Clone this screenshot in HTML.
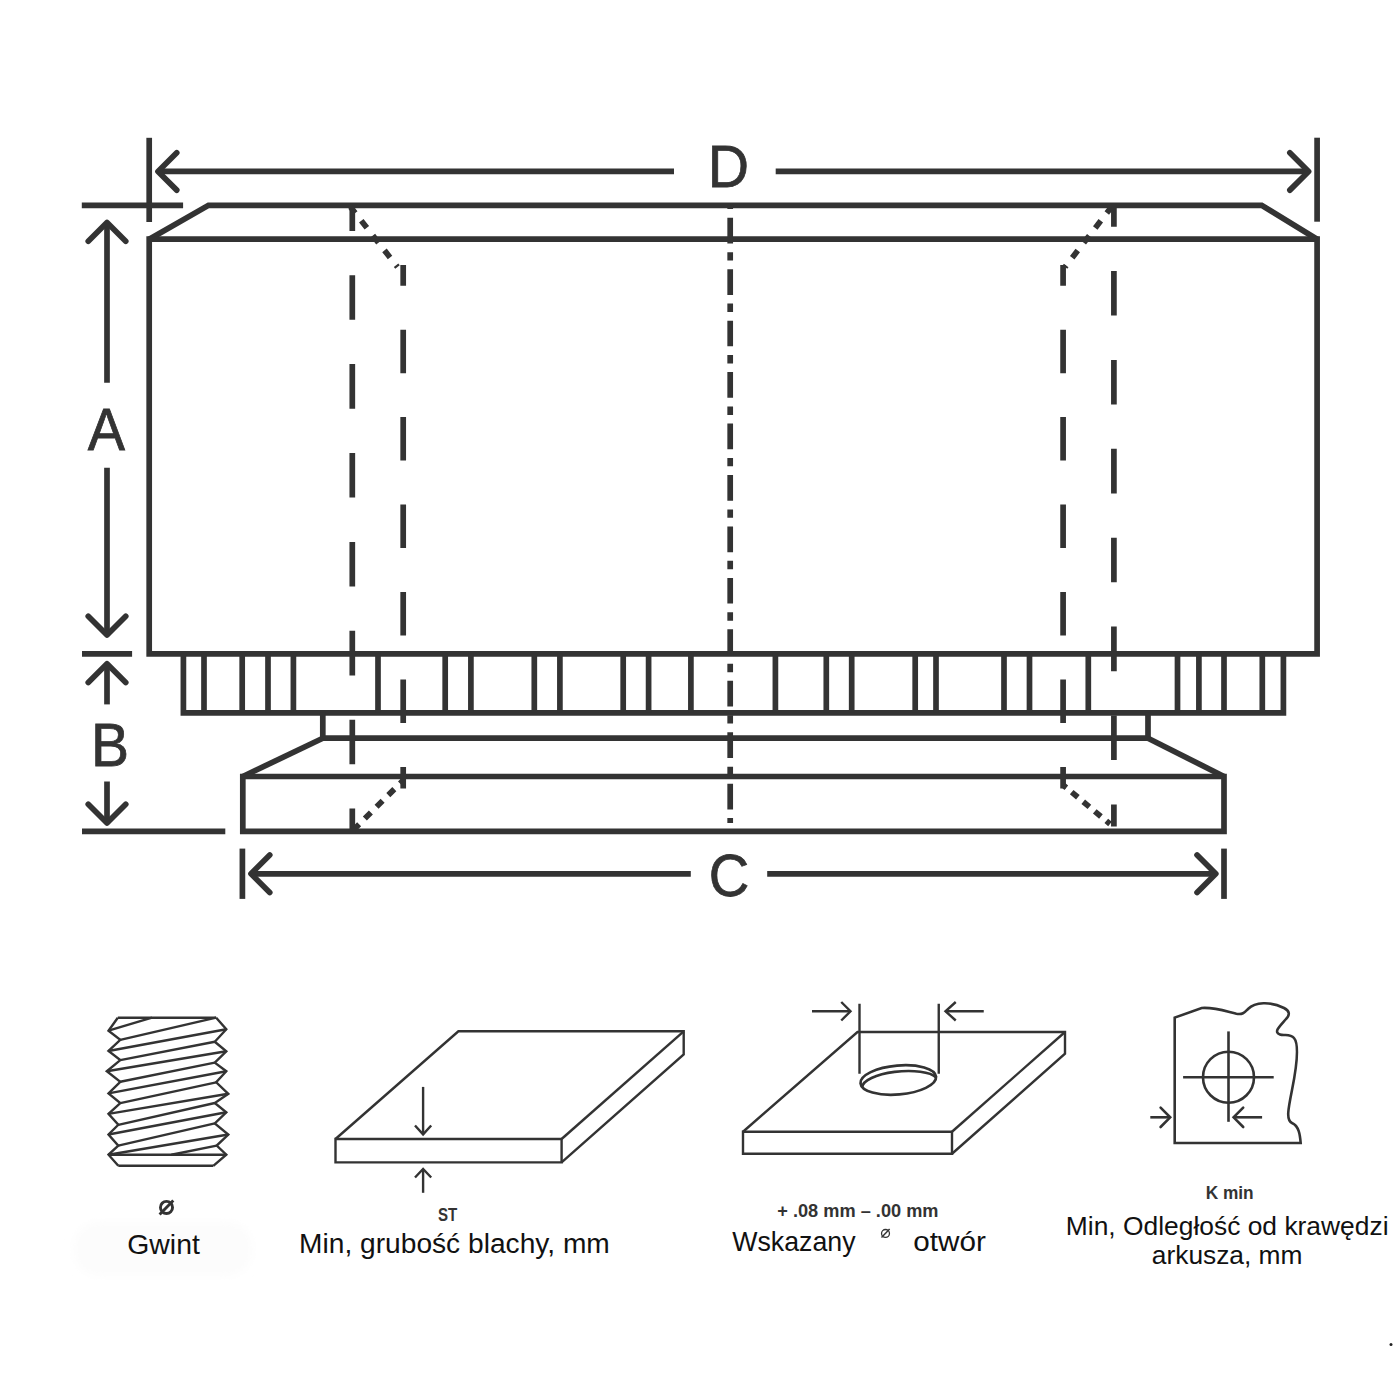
<!DOCTYPE html>
<html><head><meta charset="utf-8">
<style>
html,body{margin:0;padding:0;background:#fff;}
body{width:1400px;height:1400px;overflow:hidden;position:relative;}
svg{position:absolute;left:0;top:0;}
.t{font-family:"Liberation Sans",sans-serif;}
</style></head><body>
<svg width="1400" height="1400" viewBox="0 0 1400 1400">
<defs><filter id="bl" x="-20%" y="-50%" width="140%" height="200%"><feGaussianBlur stdDeviation="5"/></filter></defs><rect x="74" y="1222" width="178" height="54" rx="24" fill="#fcfcfc" filter="url(#bl)"/>
<g stroke="#333333" fill="none">
<line x1="149.2" y1="137.8" x2="149.2" y2="222" stroke-width="5.7" stroke-linecap="butt" />
<line x1="1317.1" y1="137.7" x2="1317.1" y2="221.7" stroke-width="5.7" stroke-linecap="butt" />
<line x1="158" y1="171.4" x2="674" y2="171.4" stroke-width="5.7" stroke-linecap="butt" />
<line x1="775.7" y1="171.4" x2="1308.6" y2="171.4" stroke-width="5.7" stroke-linecap="butt" />
<polyline points="176.74,190.14 158,171.4 176.74,152.66" stroke-width="5.7" stroke-linecap="round" stroke-linejoin="round" fill="none"/>
<polyline points="1289.86,152.66 1308.6,171.4 1289.86,190.14" stroke-width="5.7" stroke-linecap="round" stroke-linejoin="round" fill="none"/>
<line x1="81.8" y1="205.3" x2="183.1" y2="205.3" stroke-width="5.7" stroke-linecap="butt" />
<polyline points="149.2,239.2 208.5,205.3 1261.7,205.3 1317.1,239.2" stroke-width="5.7" stroke-linejoin="miter" fill="none" />
<polygon points="149.2,239.2 1317.1,239.2 1317.1,653.8 149.2,653.8" stroke-width="5.7" stroke-linejoin="miter" fill="none" />
<polyline points="183.4,653.8 183.4,712.8 1283.4,712.8 1283.4,653.8" stroke-width="5.7" stroke-linejoin="miter" fill="none" />
<line x1="204" y1="653.8" x2="204" y2="712.8" stroke-width="5.7" stroke-linecap="butt" />
<line x1="242.2" y1="653.8" x2="242.2" y2="712.8" stroke-width="5.7" stroke-linecap="butt" />
<line x1="268" y1="653.8" x2="268" y2="712.8" stroke-width="5.7" stroke-linecap="butt" />
<line x1="293.4" y1="653.8" x2="293.4" y2="712.8" stroke-width="5.7" stroke-linecap="butt" />
<line x1="378" y1="653.8" x2="378" y2="712.8" stroke-width="5.7" stroke-linecap="butt" />
<line x1="445.2" y1="653.8" x2="445.2" y2="712.8" stroke-width="5.7" stroke-linecap="butt" />
<line x1="470.9" y1="653.8" x2="470.9" y2="712.8" stroke-width="5.7" stroke-linecap="butt" />
<line x1="534.3" y1="653.8" x2="534.3" y2="712.8" stroke-width="5.7" stroke-linecap="butt" />
<line x1="559.9" y1="653.8" x2="559.9" y2="712.8" stroke-width="5.7" stroke-linecap="butt" />
<line x1="623.2" y1="653.8" x2="623.2" y2="712.8" stroke-width="5.7" stroke-linecap="butt" />
<line x1="648.6" y1="653.8" x2="648.6" y2="712.8" stroke-width="5.7" stroke-linecap="butt" />
<line x1="690.9" y1="653.8" x2="690.9" y2="712.8" stroke-width="5.7" stroke-linecap="butt" />
<line x1="775.4" y1="653.8" x2="775.4" y2="712.8" stroke-width="5.7" stroke-linecap="butt" />
<line x1="826.3" y1="653.8" x2="826.3" y2="712.8" stroke-width="5.7" stroke-linecap="butt" />
<line x1="851.7" y1="653.8" x2="851.7" y2="712.8" stroke-width="5.7" stroke-linecap="butt" />
<line x1="915.2" y1="653.8" x2="915.2" y2="712.8" stroke-width="5.7" stroke-linecap="butt" />
<line x1="936" y1="653.8" x2="936" y2="712.8" stroke-width="5.7" stroke-linecap="butt" />
<line x1="1004" y1="653.8" x2="1004" y2="712.8" stroke-width="5.7" stroke-linecap="butt" />
<line x1="1029.5" y1="653.8" x2="1029.5" y2="712.8" stroke-width="5.7" stroke-linecap="butt" />
<line x1="1088.3" y1="653.8" x2="1088.3" y2="712.8" stroke-width="5.7" stroke-linecap="butt" />
<line x1="1177.5" y1="653.8" x2="1177.5" y2="712.8" stroke-width="5.7" stroke-linecap="butt" />
<line x1="1198.9" y1="653.8" x2="1198.9" y2="712.8" stroke-width="5.7" stroke-linecap="butt" />
<line x1="1224" y1="653.8" x2="1224" y2="712.8" stroke-width="5.7" stroke-linecap="butt" />
<line x1="1262.3" y1="653.8" x2="1262.3" y2="712.8" stroke-width="5.7" stroke-linecap="butt" />
<polyline points="322.8,712.8 322.8,738.2 1148,738.2 1148,712.8" stroke-width="5.7" stroke-linejoin="miter" fill="none" />
<line x1="322.8" y1="738.2" x2="242.8" y2="776.5" stroke-width="5.7" stroke-linecap="butt" />
<line x1="1148" y1="738.2" x2="1224" y2="776.5" stroke-width="5.7" stroke-linecap="butt" />
<polygon points="242.8,776.5 1224,776.5 1224,831.3 242.8,831.3" stroke-width="5.7" stroke-linejoin="miter" fill="none" />
<line x1="82" y1="831.4" x2="225.3" y2="831.4" stroke-width="5.7" stroke-linecap="butt" />
<line x1="242.4" y1="848.6" x2="242.4" y2="898.9" stroke-width="5.7" stroke-linecap="butt" />
<line x1="1224" y1="848.6" x2="1224" y2="898.9" stroke-width="5.7" stroke-linecap="butt" />
<line x1="251" y1="873.8" x2="690.8" y2="873.8" stroke-width="5.7" stroke-linecap="butt" />
<line x1="767.2" y1="873.8" x2="1215.8" y2="873.8" stroke-width="5.7" stroke-linecap="butt" />
<polyline points="269.74,892.54 251,873.8 269.74,855.06" stroke-width="5.7" stroke-linecap="round" stroke-linejoin="round" fill="none"/>
<polyline points="1197.06,855.06 1215.8,873.8 1197.06,892.54" stroke-width="5.7" stroke-linecap="round" stroke-linejoin="round" fill="none"/>
<line x1="107" y1="222.5" x2="107" y2="382.8" stroke-width="5.7" stroke-linecap="butt" />
<line x1="107" y1="467.8" x2="107" y2="635" stroke-width="5.7" stroke-linecap="butt" />
<polyline points="88.26,241.24 107,222.5 125.74,241.24" stroke-width="5.7" stroke-linecap="round" stroke-linejoin="round" fill="none"/>
<polyline points="125.74,616.26 107,635 88.26,616.26" stroke-width="5.7" stroke-linecap="round" stroke-linejoin="round" fill="none"/>
<line x1="82" y1="653.8" x2="132.1" y2="653.8" stroke-width="5.7" stroke-linecap="butt" />
<line x1="107" y1="663.8" x2="107" y2="704.4" stroke-width="5.7" stroke-linecap="butt" />
<polyline points="88.26,682.54 107,663.8 125.74,682.54" stroke-width="5.7" stroke-linecap="round" stroke-linejoin="round" fill="none"/>
<line x1="107" y1="781.5" x2="107" y2="823" stroke-width="5.7" stroke-linecap="butt" />
<polyline points="125.74,804.26 107,823 88.26,804.26" stroke-width="5.7" stroke-linecap="round" stroke-linejoin="round" fill="none"/>
<line x1="730.2" y1="205" x2="730.2" y2="823" stroke-width="5.7" stroke-linecap="butt" stroke-dasharray="25.7 8.7 8.4 8.65" stroke-dashoffset="38.7"/>
<line x1="352.3" y1="208.6" x2="352.3" y2="830" stroke-width="5.7" stroke-linecap="butt" stroke-dasharray="44.6 44.3" stroke-dashoffset="22.3"/>
<line x1="403.2" y1="265" x2="403.2" y2="788.6" stroke-width="5.7" stroke-linecap="butt" stroke-dasharray="43.5 43.96" stroke-dashoffset="22.8"/>
<line x1="1113.9" y1="206.9" x2="1113.9" y2="826.4" stroke-width="5.7" stroke-linecap="butt" stroke-dasharray="44.6 44.3" stroke-dashoffset="24.8"/>
<line x1="1063.1" y1="265" x2="1063.1" y2="788.6" stroke-width="5.7" stroke-linecap="butt" stroke-dasharray="43.5 43.96" stroke-dashoffset="22.8"/>
<line x1="350.5" y1="207" x2="397.5" y2="267" stroke-width="5.7" stroke-linecap="butt" stroke-dasharray="9 9.8" stroke-dashoffset="1.3"/>
<line x1="1111.5" y1="207" x2="1065" y2="267" stroke-width="5.7" stroke-linecap="butt" stroke-dasharray="9 9.8" stroke-dashoffset="1.3"/>
<line x1="403.5" y1="780" x2="352.3" y2="831" stroke-width="5.7" stroke-linecap="butt" stroke-dasharray="8.5 8.05" stroke-dashoffset="3.6"/>
<line x1="1063.1" y1="785" x2="1110" y2="824" stroke-width="5.7" stroke-linecap="butt" stroke-dasharray="8 7" stroke-dashoffset="3.8"/>
<polyline points="117.8,1017.7 108.5,1030.7 120.3,1039.9 108.5,1051 120.3,1060.1 106.8,1071.2 120.3,1081.8 108.5,1093.4 120.3,1103.1 108.5,1113.9 118.3,1124.8 108.5,1134.5 118.3,1145.6 108.5,1154.7 118.3,1165.8" stroke-width="2.4" stroke-linejoin="miter" fill="none" />
<polyline points="216.2,1017.7 226.3,1029.3 214.8,1041.8 226.3,1051.3 214.8,1062.6 226.3,1071.2 216.2,1082.3 228.3,1093.8 214.8,1103 226.3,1112.3 214.8,1123.4 228.3,1134.5 216.7,1145.6 226.3,1154.7 213.3,1165.8" stroke-width="2.4" stroke-linejoin="miter" fill="none" />
<line x1="117.8" y1="1017.7" x2="216.2" y2="1017.7" stroke-width="2.4" stroke-linecap="butt" />
<line x1="118.3" y1="1165.8" x2="213.3" y2="1165.8" stroke-width="2.4" stroke-linecap="butt" />
<line x1="108.5" y1="1154.7" x2="226.3" y2="1154.7" stroke-width="2.4" stroke-linecap="butt" />
<line x1="108.5" y1="1030.7" x2="152" y2="1017.7" stroke-width="2.4" stroke-linecap="butt" />
<line x1="120.3" y1="1039.9" x2="216.2" y2="1017.7" stroke-width="2.4" stroke-linecap="butt" />
<line x1="108.5" y1="1051" x2="226.3" y2="1029.3" stroke-width="2.4" stroke-linecap="butt" />
<line x1="106.8" y1="1071.2" x2="226.3" y2="1051.3" stroke-width="2.4" stroke-linecap="butt" />
<line x1="108.5" y1="1093.4" x2="226.3" y2="1071.2" stroke-width="2.4" stroke-linecap="butt" />
<line x1="108.5" y1="1113.9" x2="228.3" y2="1093.8" stroke-width="2.4" stroke-linecap="butt" />
<line x1="108.5" y1="1134.5" x2="226.3" y2="1112.3" stroke-width="2.4" stroke-linecap="butt" />
<line x1="108.5" y1="1154.7" x2="228.3" y2="1134.5" stroke-width="2.4" stroke-linecap="butt" />
<line x1="120.3" y1="1060.1" x2="214.8" y2="1041.8" stroke-width="2.4" stroke-linecap="butt" />
<line x1="120.3" y1="1081.8" x2="214.8" y2="1062.6" stroke-width="2.4" stroke-linecap="butt" />
<line x1="120.3" y1="1103.1" x2="216.2" y2="1082.3" stroke-width="2.4" stroke-linecap="butt" />
<line x1="118.3" y1="1124.8" x2="214.8" y2="1103" stroke-width="2.4" stroke-linecap="butt" />
<line x1="118.3" y1="1145.6" x2="214.8" y2="1123.4" stroke-width="2.4" stroke-linecap="butt" />
<line x1="216.7" y1="1145.6" x2="171.4" y2="1154.7" stroke-width="2.4" stroke-linecap="butt" />
<polygon points="335.5,1139 561.6,1139 561.6,1162.4 335.5,1162.4" stroke-width="2.4" stroke-linejoin="miter" fill="none" />
<polyline points="335.5,1139 458.4,1031.3 683.7,1031.3 683.7,1054.4 561.6,1162.4" stroke-width="2.4" stroke-linejoin="miter" fill="none" />
<line x1="561.6" y1="1139" x2="683.7" y2="1031.3" stroke-width="2.4" stroke-linecap="butt" />
<line x1="423.1" y1="1086.9" x2="423.1" y2="1134.4" stroke-width="2.4" stroke-linecap="butt" />
<polyline points="415,1125.5 423.1,1134.4 431.2,1125.5" stroke-width="2.4" stroke-linejoin="miter" fill="none" />
<line x1="423.1" y1="1169" x2="423.1" y2="1192.8" stroke-width="2.4" stroke-linecap="butt" />
<polyline points="415,1177.5 423.1,1169 431.2,1177.5" stroke-width="2.4" stroke-linejoin="miter" fill="none" />
<polygon points="743,1131.75 952,1131.75 952,1153.75 743,1153.75" stroke-width="2.4" stroke-linejoin="miter" fill="none" />
<polyline points="743,1131.75 857.5,1032 1065,1032 1065,1053.75 952,1153.75" stroke-width="2.4" stroke-linejoin="miter" fill="none" />
<line x1="952" y1="1131.75" x2="1065" y2="1032" stroke-width="2.4" stroke-linecap="butt" />
<line x1="859.5" y1="1003.75" x2="859.5" y2="1073.75" stroke-width="2.4" stroke-linecap="butt" />
<line x1="938.75" y1="1003.75" x2="938.75" y2="1073.75" stroke-width="2.4" stroke-linecap="butt" />
<line x1="812" y1="1011.25" x2="850.5" y2="1011.25" stroke-width="2.4" stroke-linecap="butt" />
<polyline points="841.25,1002 850.5,1011.25 841.25,1020.5" stroke-width="2.4" stroke-linejoin="miter" fill="none" />
<line x1="983.75" y1="1011.25" x2="945.5" y2="1011.25" stroke-width="2.4" stroke-linecap="butt" />
<polyline points="955.75,1002 945.5,1011.25 955.75,1020.5" stroke-width="2.4" stroke-linejoin="miter" fill="none" />
<ellipse cx="898.3" cy="1080" rx="37.9" ry="14.5" transform="rotate(-5 898.3 1080)" stroke-width="2.7" fill="none"/>
<path d="M862.3,1087 A38,12.8 -5 0 1 936.3,1077.5" stroke-width="2.6" fill="none"/>
<path d="M1174.7,1143 L1174.7,1017.6 L1201.7,1008 C1215,1007 1228,1012 1236.4,1013.8 C1243,1015 1245,1012 1248,1009 C1255,1002 1270,1001 1284,1008 C1290,1011 1290,1015 1286,1019 C1280,1026 1273,1032 1280,1034.5 C1284,1036 1290,1033 1294,1038 C1300,1045 1296,1070 1292,1090 C1288,1110 1286,1120 1292,1123 C1299,1126 1300,1135 1300.7,1143 Z" stroke-width="2.6" fill="none" stroke-linejoin="miter"/>
<circle cx="1228.5" cy="1077.2" r="25.5" stroke-width="2.6" fill="none"/>
<line x1="1228.5" y1="1031.4" x2="1228.5" y2="1121.8" stroke-width="2.6" stroke-linecap="butt" />
<line x1="1183.1" y1="1077.2" x2="1273.7" y2="1077.2" stroke-width="2.6" stroke-linecap="butt" />
<line x1="1150.3" y1="1117.3" x2="1170.2" y2="1117.3" stroke-width="2.6" stroke-linecap="butt" />
<polyline points="1160.6,1107.6 1170.2,1117.3 1160.6,1127" stroke-width="2.6" stroke-linejoin="miter" fill="none" stroke-linecap="round"/>
<line x1="1262.1" y1="1117.3" x2="1233.6" y2="1117.3" stroke-width="2.6" stroke-linecap="butt" />
<polyline points="1243.2,1107.6 1233.6,1117.3 1243.2,1127" stroke-width="2.6" stroke-linejoin="miter" fill="none" stroke-linecap="round"/>
</g>
<g class="t"><text transform="translate(707.73,186.6) scale(0.5717,0.5958)" font-size="100" font-weight="normal" fill="#333333" stroke="#333333" stroke-width="1.3">D</text>
<text transform="translate(87.8,450.01000000000005) scale(0.5582,0.5873)" font-size="100" font-weight="normal" fill="#333333" stroke="#333333" stroke-width="1.3">A</text>
<text transform="translate(90.94,765.5) scale(0.5704,0.6028)" font-size="100" font-weight="normal" fill="#333333" stroke="#333333" stroke-width="1.3">B</text>
<text transform="translate(708.75,895.91) scale(0.5615,0.5932)" font-size="100" font-weight="normal" fill="#333333" stroke="#333333" stroke-width="1.3">C</text>
<g stroke="#333333" fill="none"><circle cx="166.5" cy="1207.4" r="6.05" stroke-width="2.9"/><line x1="159.6" y1="1214.5" x2="173.3" y2="1200.6" stroke-width="2.9"/><circle cx="885.5" cy="1233.45" r="3.95" stroke-width="1.3"/><line x1="881.5" y1="1237.4" x2="889.6" y2="1229.1" stroke-width="1.5"/></g>
<text transform="translate(437.95,1220.6) scale(0.8378,1)" font-size="18.0" font-weight="bold" fill="#333333" >ST</text>
<text transform="translate(777.27,1216.5) scale(1.0036,1)" font-size="18.143" font-weight="bold" fill="#333333" >+ .08 mm – .00 mm</text>
<text transform="translate(1205.69,1199.3) scale(0.9103,1)" font-size="18.986" font-weight="bold" fill="#333333" >K min</text>
<text transform="translate(127.28,1253.8) scale(1.0301,1)" font-size="27.571" font-weight="normal" fill="#111111" >Gwint</text>
<text transform="translate(299.05,1253.1) scale(1.0118,1)" font-size="27.826" font-weight="normal" fill="#111111" >Min, grubość blachy, mm</text>
<text transform="translate(732.23,1251.0) scale(0.9814,1)" font-size="27.246" font-weight="normal" fill="#111111" >Wskazany</text>
<text transform="translate(913.31,1251.0) scale(1.0903,1)" font-size="27.246" font-weight="normal" fill="#111111" >otwór</text>
<text transform="translate(1065.79,1234.9) scale(1.0123,1)" font-size="26.087" font-weight="normal" fill="#111111" >Min, Odległość od krawędzi</text>
<text transform="translate(1151.85,1264.0) scale(1.0013,1)" font-size="26.301" font-weight="normal" fill="#111111" >arkusza, mm</text></g>
<circle cx="1391" cy="1344.6" r="1.5" fill="#222"/>
</svg>
</body></html>
